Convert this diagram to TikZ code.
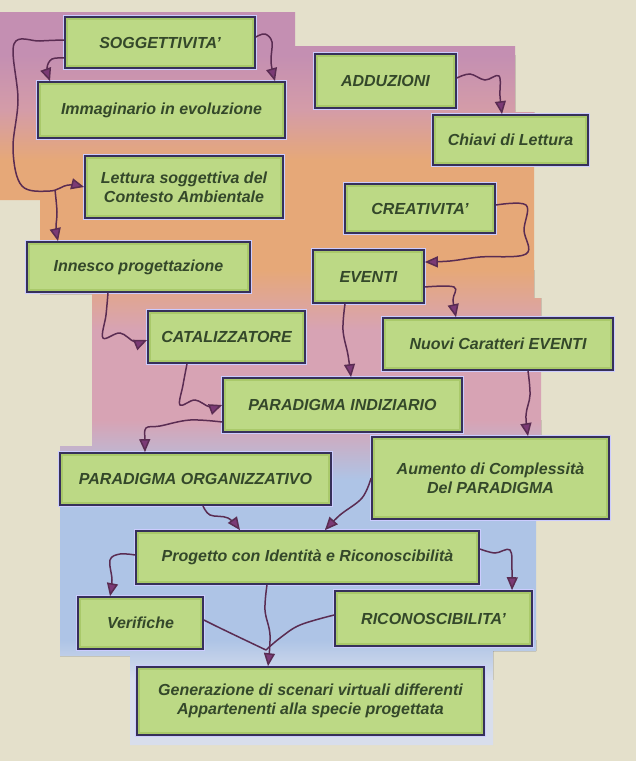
\documentclass[tikz,border=0pt]{standalone}
\usepackage{fontspec}
\setmainfont{Liberation Sans}
\usetikzlibrary{arrows.meta,calc}
\definecolor{bgc}{HTML}{E4E0CB}
\definecolor{mauve}{HTML}{C48FB2}
\definecolor{pinkm}{HTML}{D49CA8}
\definecolor{orng}{HTML}{E6A878}
\definecolor{pinkl}{HTML}{D7A3B4}
\definecolor{bluel}{HTML}{AEC4E6}
\definecolor{palebl}{HTML}{D8DEEC}
\definecolor{boxg}{HTML}{A9C96A}
\definecolor{boxin}{HTML}{BCD985}
\definecolor{boxb}{HTML}{36305A}
\definecolor{txt}{HTML}{34482A}
\definecolor{wire}{HTML}{5A2C52}
\definecolor{tip}{HTML}{7B3A75}
\tikzset{
 box/.style={draw=boxb, line width=1.7pt, fill=boxg, inner sep=0pt, align=center, text=txt,
   font=\fontsize{16}{19}\selectfont\bfseries\itshape,
   preaction={draw=white!80!blue, line width=4.5pt},
   path picture={\fill[boxin] ([shift={(3pt,-3pt)}]path picture bounding box.north west) rectangle ([shift={(-3pt,3pt)}]path picture bounding box.south east);}},
 conn/.style={draw=wire, line width=1.5pt, -{Triangle[length=13pt,width=11pt,fill=tip]}},
 link/.style={draw=wire, line width=1.5pt},
}
\begin{document}
\begin{tikzpicture}[x=1pt,y=-1pt]
\useasboundingbox (0,0) rectangle (636,761);
\fill[bgc] (0,0) rectangle (636,761);
% background sheet
\begin{scope}
\clip (0,12) -- (295,12) -- (295,46) -- (515,46) -- (515,112) -- (534,112) -- (534,298) -- (541,298) -- (541,445) -- (536,445) -- (536,651) -- (493,651) -- (493,745) -- (130,745) -- (130,656) -- (60,656) -- (60,446) -- (92,446) -- (92,294) -- (40,294) -- (40,200) -- (0,200) -- cycle;
\fill[mauve] (0,0) rectangle (636,55);
\fill[top color=mauve, bottom color=pinkm] (0,55) rectangle (636,110);
\fill[top color=pinkm, bottom color=orng] (0,110) rectangle (636,160);
\fill[orng] (0,160) rectangle (636,270);
\fill[top color=orng, bottom color=pinkl] (0,270) rectangle (636,330);
\fill[pinkl] (0,330) rectangle (636,420);
\fill[top color=pinkl, bottom color=bluel] (0,420) rectangle (636,480);
\fill[bluel] (0,480) rectangle (636,640);
\fill[top color=bluel, bottom color=palebl] (0,640) rectangle (636,680);
\fill[palebl] (0,680) rectangle (636,761);
\end{scope}
% boxes
\node[box, minimum width=190pt, minimum height=51pt] (sog) at (160,42.5) {SOGGETTIVITA'};
\node[box, minimum width=247pt, minimum height=56pt] (imm) at (161.5,110) {Immaginario in evoluzione};
\node[box, minimum width=198pt, minimum height=62pt] (let) at (184,187) {Lettura soggettiva del\\Contesto Ambientale};
\node[box, minimum width=223pt, minimum height=50pt] (inn) at (138.5,267) {Innesco progettazione};
\node[box, minimum width=141pt, minimum height=54pt] (add) at (385.5,81) {ADDUZIONI};
\node[box, minimum width=155pt, minimum height=50pt] (chi) at (510.5,140) {Chiavi di Lettura};
\node[box, minimum width=150pt, minimum height=49pt] (cre) at (420,208.5) {CREATIVITA'};
\node[box, minimum width=111pt, minimum height=53pt] (eve) at (368.5,276.5) {EVENTI};
\node[box, minimum width=157pt, minimum height=52pt] (cat) at (226.5,337) {CATALIZZATORE};
\node[box, minimum width=230pt, minimum height=52pt] (nuo) at (498,344) {Nuovi Caratteri EVENTI};
\node[box, minimum width=239pt, minimum height=54pt] (pin) at (342.5,405) {PARADIGMA INDIZIARIO};
\node[box, minimum width=271pt, minimum height=52pt] (por) at (195.5,479) {PARADIGMA ORGANIZZATIVO};
\node[box, minimum width=237pt, minimum height=82pt] (aum) at (490.5,478) {Aumento di Complessità\\Del PARADIGMA};
\node[box, minimum width=343pt, minimum height=53pt] (pro) at (307.5,557.5) {Progetto con Identità e Riconoscibilità};
\node[box, minimum width=125pt, minimum height=52pt] (ver) at (140.5,623) {Verifiche};
\node[box, minimum width=197pt, minimum height=55pt] (ric) at (433.5,618.5) {RICONOSCIBILITA'};
\node[box, minimum width=347pt, minimum height=68pt] (gen) at (310.5,701) {Generazione di scenari virtuali differenti\\Appartenenti alla specie progettata};
% junctions
\coordinate (j1) at (55,190);
\coordinate (mrg) at (266,650);
% connectors
\draw[conn] plot[smooth, tension=0.6] coordinates {([yshift=2.5pt]sog.west) (40,41) (14,44) (18,100) (13,150) (22,186) (50,191) (68,185) (let.west)};
\draw[conn] plot[smooth, tension=0.6] coordinates {(j1) (57,212) (56,228) ([xshift=-80.5pt]inn.north)};
\draw[conn] plot[smooth, tension=0.6] coordinates {([yshift=-15.5pt]sog.west) (52,59) (47,68) ([xshift=-111.5pt]imm.north)};
\draw[conn] plot[smooth, tension=0.6] coordinates {([yshift=5.5pt]sog.east) (265,34) (272,42) (271,62) ([xshift=113.5pt]imm.north)};
\draw[conn] plot[smooth, tension=0.6] coordinates {([yshift=3pt]add.east) (470,74) (485,80) (499,76) (500,96) ([xshift=-8.5pt]chi.north)};
\draw[conn] plot[smooth, tension=0.6] coordinates {([yshift=3.5pt]cre.east) (526,205) (524,230) (526,254) (480,257) (450,261) ([yshift=14.5pt]eve.east)};
\draw[conn] plot[smooth, tension=0.6] coordinates {([yshift=-10.5pt]eve.east) (454,287) (453,300) ([xshift=-42pt]nuo.north)};
\draw[conn] plot[smooth, tension=0.6] coordinates {([xshift=-23.5pt]eve.south) (343,330) (348,355) ([xshift=8.5pt]pin.north)};
\draw[conn] plot[smooth, tension=0.6] coordinates {([xshift=-30.5pt]inn.south) (106,315) (103,338) (120,333) (135,342) ([yshift=-3pt]cat.west)};
\draw[conn] plot[smooth, tension=0.6] coordinates {([xshift=-39.5pt]cat.south) (183,385) (180,405) (195,400) (210,407) (pin.west)};
\draw[conn] plot[smooth, tension=0.6] coordinates {([yshift=-17pt]pin.west) (190,420) (160,426) (146,428) (145,440) ([xshift=-50.5pt]por.north)};
\draw[conn] plot[smooth, tension=0.6] coordinates {([xshift=30pt]nuo.south) (530,395) (526,415) ([xshift=37.5pt]aum.north)};
\draw[conn] plot[smooth, tension=0.6] coordinates {([xshift=7.5pt]por.south) (210,515) (228,518) ([xshift=-67.5pt]pro.north)};
\draw[conn] plot[smooth, tension=0.6] coordinates {(aum.west) (362,498) (340,515) ([xshift=17.5pt]pro.north)};
\draw[conn] plot[smooth, tension=0.6] coordinates {([yshift=2.5pt]pro.west) (120,554) (110,560) (112,580) ([xshift=-30.5pt]ver.north)};
\draw[conn] plot[smooth, tension=0.6] coordinates {([yshift=8.5pt]pro.east) (495,553) (510,550) (512,570) ([xshift=78.5pt]ric.north)};
\draw[conn] plot[smooth, tension=0.6] coordinates {([xshift=-40.5pt]pro.south) (265,610) (270,635) ([xshift=-42.5pt]gen.north)};
\draw[link] plot[smooth, tension=0.6] coordinates {([yshift=3pt]ver.east) (220,628) (245,640) (mrg)};
\draw[link] plot[smooth, tension=0.6] coordinates {([yshift=3.5pt]ric.west) (300,625) (280,638) (mrg)};
\end{tikzpicture}
\end{document}
